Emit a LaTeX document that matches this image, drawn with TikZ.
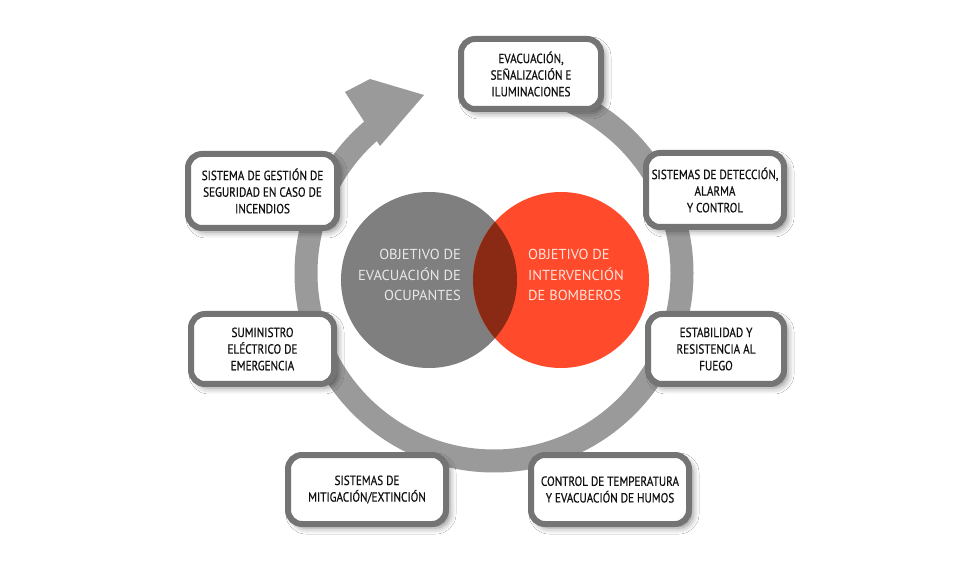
\documentclass[tikz,border=0pt]{standalone}
\usepackage{fontspec}
\setmainfont{PT Sans}[FakeStretch=0.84,FakeBold=0.6]
\newfontfamily\vennfont{PT Sans}
\usetikzlibrary{shadows.blur}
\definecolor{ringgray}{HTML}{9A9A9A}
\definecolor{boxborder}{HTML}{747474}
\definecolor{textc}{HTML}{111111}
\definecolor{vgray}{HTML}{7F7F7F}
\definecolor{vorange}{HTML}{FF4A2B}
\definecolor{vdark}{HTML}{8B2A14}
\definecolor{vgtext}{HTML}{E8E8E8}
\definecolor{votext}{HTML}{FFE3DC}
\begin{document}
\begin{tikzpicture}[x=1pt,y=1pt,
  boxst/.style={draw=boxborder, line width=6pt, fill=white, rounded corners=14pt,
    align=center, text=textc, font=\fontsize{13.3}{16.6}\selectfont, inner sep=0pt,
    blur shadow={shadow xshift=4pt, shadow yshift=-4pt, shadow blur radius=6pt, shadow opacity=45}},
  venntext/.style={font=\vennfont\fontsize{14.5}{20.7}\selectfont, inner sep=0pt},
  ringline/.style={draw=ringgray, line width=23pt},
  arrowhd/.style={fill=ringgray},
]
\useasboundingbox (0,0) rectangle (980,560);
\fill[white] (0,0) rectangle (980,560);

% ring with arrow
\coordinate (rc) at (494,287);
\draw[ringline] ([shift={(90:188)}]rc) arc[start angle=90, end angle=-232, radius=188];
\fill[arrowhd] (345,468) -- (370,481) -- (424,465) -- (380,414) -- cycle;

% boxes
\node[boxst, minimum width=140pt, minimum height=70pt] (b1) at (531,486)
  {EVACUACIÓN,\\SEÑALIZACIÓN E\\ILUMINACIONES};
\node[boxst, minimum width=138pt, minimum height=74pt] (b2) at (715,370)
  {SISTEMAS DE DETECCIÓN,\\ALARMA\\Y CONTROL};
\node[boxst, minimum width=136pt, minimum height=70pt] (b3) at (716,211)
  {ESTABILIDAD Y\\RESISTENCIA AL\\FUEGO};
\node[boxst, minimum width=158pt, minimum height=69pt] (b4) at (610,70.5)
  {CONTROL DE TEMPERATURA\\Y EVACUACIÓN DE HUMOS};
\node[boxst, minimum width=158pt, minimum height=69pt] (b5) at (367,70.5)
  {SISTEMAS DE\\MITIGACIÓN/EXTINCIÓN};
\node[boxst, minimum width=143pt, minimum height=70pt] (b6) at (262.5,211)
  {SUMINISTRO\\ELÉCTRICO DE\\EMERGENCIA};
\node[boxst, minimum width=149pt, minimum height=74pt] (b7) at (262.5,369)
  {SISTEMA DE GESTIÓN DE\\SEGURIDAD EN CASO DE\\INCENDIOS};

% venn
\fill[vgray] (429,280) circle (88);
\fill[vorange] (561,280) circle (88);
\begin{scope}
  \clip (429,280) circle (88);
  \fill[vdark] (561,280) circle (88);
\end{scope}
\node[venntext, text=vgtext, align=right, anchor=east] (vg) at (461,285)
  {OBJETIVO DE\\EVACUACIÓN DE\\OCUPANTES};
\node[venntext, text=votext, align=left, anchor=west] (vo) at (528,285)
  {OBJETIVO DE\\INTERVENCIÓN\\DE BOMBEROS};
\end{tikzpicture}
\end{document}
